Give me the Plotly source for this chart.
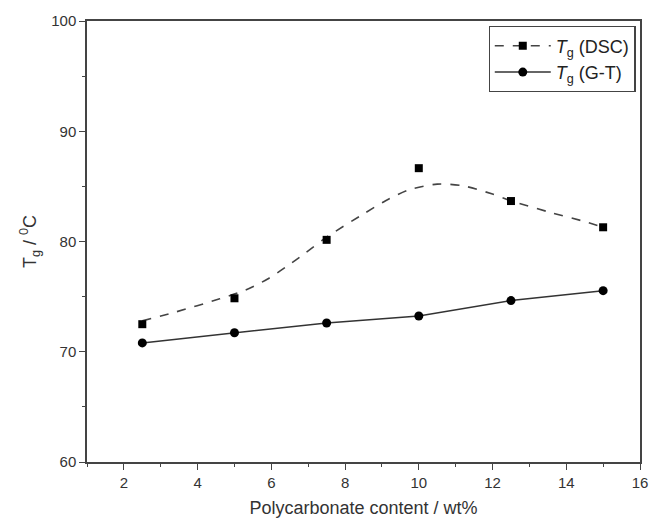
import plotly.graph_objects as go

# Data
pc_content = [2.5, 5, 7.5, 10, 12.5, 15]
tg_dsc = [72.5, 74.85, 80.15, 86.65, 83.67, 81.29]
tg_gt = [70.8, 71.72, 72.61, 73.24, 74.64, 75.54]

# Smooth dashed guide curve for DSC
dsc_curve_x = [2.5, 3.4, 4.6, 5.3, 5.9, 6.4, 6.9, 7.5, 8.5, 9.1, 9.75, 10.5, 11.2, 12.0, 12.5, 13.5, 14.4, 15]
dsc_curve_y = [72.8, 73.6, 74.8, 75.6, 76.6, 77.7, 78.9, 80.4, 82.5, 83.7, 84.7, 85.2, 85.05, 84.3, 83.7, 82.7, 81.9, 81.3]

x_ticks = [2, 4, 6, 8, 10, 12, 14, 16]
y_ticks = [60, 70, 80, 90, 100]

font_family = "Liberation Sans, Arial, sans-serif"
ink = "#333333"

fig = go.Figure()

fig.add_trace(go.Scatter(
    x=dsc_curve_x, y=dsc_curve_y, mode="lines",
    line=dict(color="#444444", width=1.6, dash="dash", shape="spline", smoothing=0.8),
    showlegend=False, hoverinfo="skip",
))
fig.add_trace(go.Scatter(
    x=pc_content, y=tg_dsc, mode="markers",
    marker=dict(symbol="square", size=8, color="black"),
    showlegend=False,
))
# legend entry for DSC (dashed line + square)
fig.add_trace(go.Scatter(
    x=[None], y=[None], mode="lines+markers",
    line=dict(color="#444444", width=1.6, dash="dash"),
    marker=dict(symbol="square", size=8, color="black"),
    name="<i>T</i><sub>g</sub> (DSC)",
))
fig.add_trace(go.Scatter(
    x=pc_content, y=tg_gt, mode="lines+markers",
    line=dict(color="#333333", width=1.5),
    marker=dict(symbol="circle", size=9, color="black"),
    name="<i>T</i><sub>g</sub> (G-T)",
))

axis_common = dict(
    showline=True, linecolor="#444444", linewidth=1.5, mirror=True,
    ticks="outside", ticklen=6, tickwidth=1.3, tickcolor="#444444",
    showgrid=False, zeroline=False,
    tickfont=dict(family=font_family, size=15, color=ink),
)

fig.update_xaxes(
    range=[1, 16], tickvals=x_ticks,
    minor=dict(dtick=1, ticks="outside", ticklen=3, tickcolor="#444444", tickwidth=1.2),
    title=dict(text="Polycarbonate content / wt%", font=dict(family=font_family, size=18, color=ink), standoff=12),
    **axis_common,
)
fig.update_yaxes(
    range=[60, 100], tickvals=y_ticks,
    minor=dict(dtick=5, ticks="outside", ticklen=3, tickcolor="#444444", tickwidth=1.2),
    title=dict(text="T<sub>g</sub> / <sup>0</sup>C", font=dict(family=font_family, size=18, color=ink), standoff=10),
    **axis_common,
)

fig.update_layout(
    width=661, height=527,
    margin=dict(l=87, r=21, t=15, b=65),
    paper_bgcolor="white", plot_bgcolor="white",
    font=dict(family=font_family, color=ink),
    legend=dict(
        x=0.992, y=0.988, xanchor="right", yanchor="top",
        bordercolor="#444444", borderwidth=1.2, bgcolor="white",
        font=dict(family=font_family, size=18, color="#222222"),
        itemwidth=56, tracegroupgap=0,
    ),
)

fig.write_html("out.html")
